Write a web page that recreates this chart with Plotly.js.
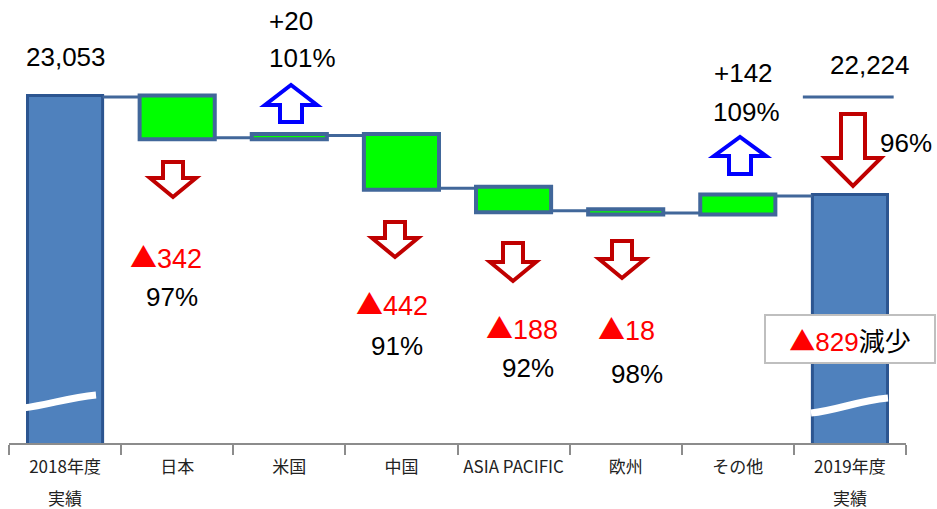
<!DOCTYPE html>
<html><head><meta charset="utf-8">
<script src="https://cdn.plot.ly/plotly-3.0.1.min.js"></script>
<style>html,body{margin:0;padding:0;background:#fff}#chart{width:937px;height:509px}</style>
</head><body><div id="chart"></div>
<script>
// ---- data ----
const categories = ['2018年度 実績','日本','米国','中国','ASIA PACIFIC','欧州','その他','2019年度 実績'];
const tickLabels = ['2018年度','日本','米国','中国','ASIA PACIFIC','欧州','その他','2019年度'];
const tickSubLabels = ['実績','','','','','','','実績'];
const values = [23053, -342, 20, -442, -188, -18, 142, 22224];
const measures = ['absolute','relative','relative','relative','relative','relative','relative','absolute'];
const ratios = [null, 97, 101, 91, 92, 98, 109, 96];
const totalChange = -829;

// ---- geometry helpers (plot area in px) ----
const L = 9, R = 906, T = 10, B = 443;
const fx = p => (p - L) / (R - L);
const fy = p => (B - p) / (B - T);
const fmt = v => v.toLocaleString('en-US');
const TRI = '<span style="font-family:Noto Sans CJK JP">▲</span>';

const ann = [];
const blackFont = {family:'Liberation Sans, Arial, sans-serif', size:26, color:'#000'};
function txt(text, xp, yp, o) {
  o = o || {};
  ann.push(Object.assign({xref:'paper', yref:'paper', x: fx(xp), y: fy(yp), text: text,
    showarrow:false, xanchor:'center', yanchor:'middle', font: blackFont}, o));
}
// totals
txt(fmt(values[0]), 66, 57);
txt(fmt(values[7]), 870, 65);
txt(ratios[7] + '%', 906, 143);
// increases
txt('+' + values[2], 267, 21, {xanchor:'left'});
txt(ratios[2] + '%', 267, 58, {xanchor:'left'});
txt('+' + values[6], 743, 73);
txt(ratios[6] + '%', 746, 112);
// decreases
const red = {family:'Liberation Sans, Arial, sans-serif', size:27, color:'#ff0000'};
const decPos = {1:[166,256,172,297], 3:[392,303,397,346], 4:[522,327,528,368], 5:[626,328,637,374]};
Object.keys(decPos).forEach(k => {
  const p = decPos[k];
  txt(TRI + Math.abs(values[k]), p[0], p[1], {font: red});
  txt(ratios[k] + '%', p[2], p[3]);
});
// summary box
ann.push({xref:'paper', yref:'paper', x: fx(850), y: fy(339), xanchor:'center', yanchor:'middle',
  text:'<span style="color:#ff0000">' + TRI + Math.abs(totalChange) + '</span><span style="font-family:Noto Sans CJK JP">減少</span>', showarrow:false,
  width:164, height:42, bgcolor:'#ffffff', bordercolor:'#bfbfbf', borderwidth:2, borderpad:2,
  font:{family:'Liberation Sans, Arial, sans-serif', size:26, color:'#000'}});
// second line of the two-line category labels
tickSubLabels.forEach((s, i) => {
  if (!s) return;
  ann.push({xref:'x', yref:'paper', x: categories[i], y: fy(497), text: s, showarrow:false,
    xanchor:'center', yanchor:'middle',
    font:{family:'Noto Sans CJK JP, sans-serif', size:17, color:'#222'}});
});

// ---- arrows ----
const shapes = [];
function arrow(cx, top, bottom, W, S, H, dir, color) {
  let pts;
  if (dir === 'down') {
    const hs = bottom - H;
    pts = [[cx-S/2,top],[cx+S/2,top],[cx+S/2,hs],[cx+W/2,hs],[cx,bottom],[cx-W/2,hs],[cx-S/2,hs]];
  } else {
    const he = top + H;
    pts = [[cx-S/2,bottom],[cx+S/2,bottom],[cx+S/2,he],[cx+W/2,he],[cx,top],[cx-W/2,he],[cx-S/2,he]];
  }
  const path = 'M' + pts.map(p => fx(p[0]).toFixed(5) + ',' + fy(p[1]).toFixed(5)).join(' L') + ' Z';
  shapes.push({type:'path', xref:'paper', yref:'paper', path: path, fillcolor:'#ffffff',
    line:{color: color, width:4}, layer:'above'});
}
const RED = '#c00000', BLUE = '#0000ff';
arrow(173, 162, 197, 46, 20, 19, 'down', RED);
arrow(291, 85, 122, 52, 22, 20, 'up', BLUE);
arrow(395, 222, 257, 46, 20, 19, 'down', RED);
arrow(513, 243, 281, 46, 20, 19, 'down', RED);
arrow(622, 241, 278, 46, 20, 19, 'down', RED);
arrow(740, 137, 174, 52, 22, 19, 'up', BLUE);
arrow(853, 114, 186, 56, 24, 28, 'down', RED);

// axis break marks
function wave(x1, y1, x2, y2) {
  const dx = x2 - x1, dy = y2 - y1;
  const c1 = [x1 + dx*0.35, y1 + dy*0.05 - 2], c2 = [x1 + dx*0.6, y1 + dy*0.95 + 2];
  const path = 'M' + fx(x1) + ',' + fy(y1) + ' C' + fx(c1[0]) + ',' + fy(c1[1]) + ' ' +
    fx(c2[0]) + ',' + fy(c2[1]) + ' ' + fx(x2) + ',' + fy(y2);
  shapes.push({type:'path', xref:'paper', yref:'paper', path: path, line:{color:'#ffffff', width:7}, layer:'above'});
}
wave(23, 408, 96, 395);
wave(811, 413, 888, 398);

// reference level line above the 2019 bar
shapes.push({type:'line', xref:'x', yref:'y', x0: 6.58, x1: 7.39, y0: values[0], y1: values[0],
  line:{color:'#41679a', width:3}});

const trace = {
  type:'waterfall', x: categories, y: values, measure: measures,
  increasing:{marker:{color:'#00ff00', line:{color:'#41679a', width:4}}},
  decreasing:{marker:{color:'#00ff00', line:{color:'#41679a', width:4}}},
  totals:{marker:{color:'#4f81bd', line:{color:'#2c5590', width:3}}},
  connector:{mode:'between', line:{color:'#41679a', width:3}},
  textinfo:'none', hoverinfo:'none', cliponaxis:true
};

const layout = {
  width:937, height:509,
  margin:{l:L, r:937-R, t:T, b:509-B},
  paper_bgcolor:'#ffffff', plot_bgcolor:'#ffffff',
  showlegend:false, waterfallgap:0.33,
  xaxis:{type:'category', tickvals: categories, ticktext: tickLabels,
    showline:true, linecolor:'#8c8c8c', linewidth:2, ticks:'outside', tickson:'boundaries',
    ticklen:10, tickwidth:2, tickcolor:'#8c8c8c', showgrid:false, zeroline:false,
    ticklabelstandoff:8,
    tickfont:{family:'Noto Sans CJK JP, sans-serif', size:17, color:'#222'}},
  yaxis:{range:[20160, 23780], visible:false, showgrid:false, zeroline:false},
  annotations: ann, shapes: shapes
};
Plotly.newPlot('chart', [trace], layout, {staticPlot:true, displayModeBar:false});
</script></body></html>
